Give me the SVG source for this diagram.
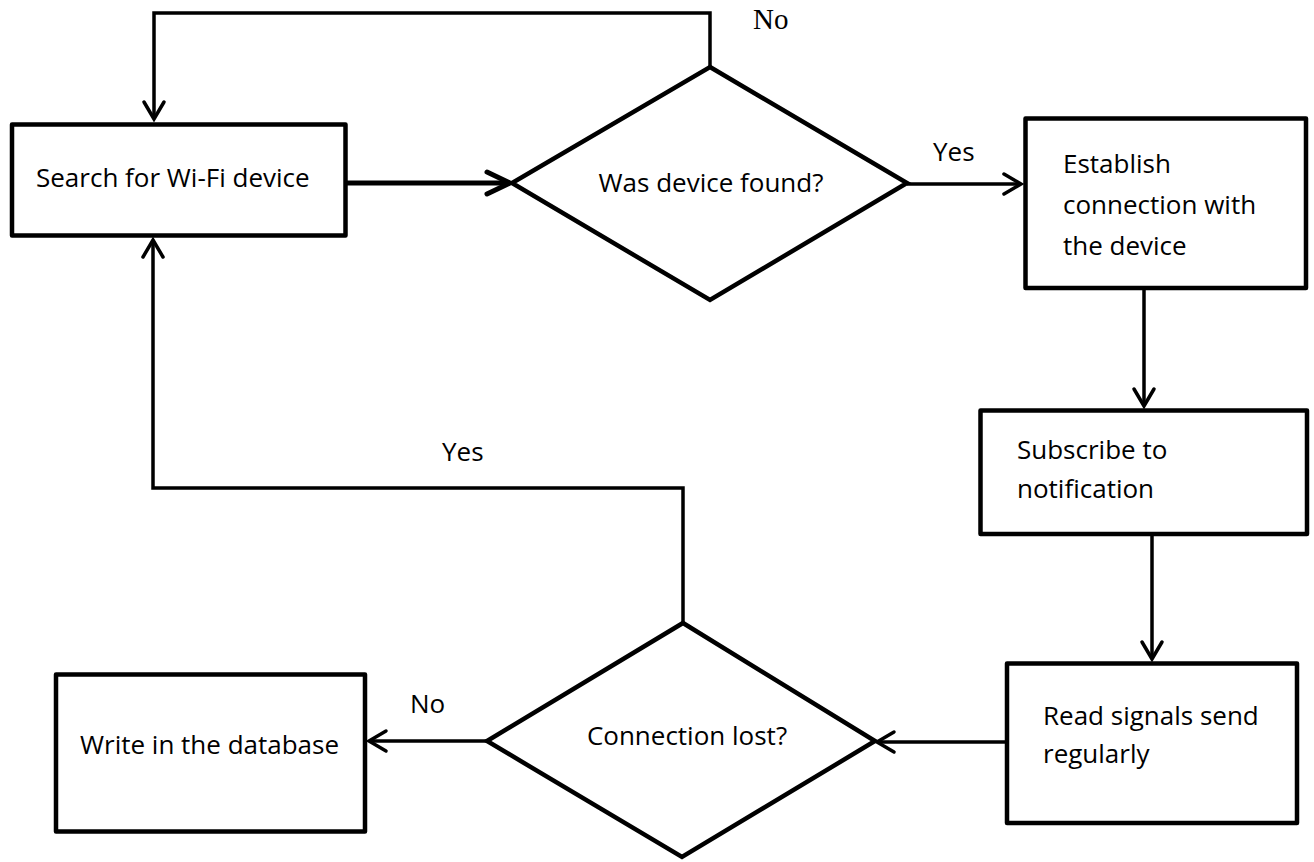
<svg xmlns="http://www.w3.org/2000/svg" width="1314" height="862" viewBox="0 0 1314 862">
  <style>
    .box { fill: #fff; stroke: #000; stroke-width: 4.5; stroke-linejoin: round; }
    .dia { fill: #fff; stroke: #000; stroke-width: 4.5; stroke-linejoin: miter; }
    .lbl { font-family: "Open Sans", "Noto Sans", "Liberation Sans", sans-serif; font-size: 26px; fill: #000; }
    .serif { font-family: "Liberation Serif", "Times New Roman", serif; font-size: 29px; fill: #000; }
    .con { fill: none; stroke: #000; stroke-width: 3.5; stroke-linejoin: miter; }
    .thick { stroke-width: 5; }
  </style>
  <defs>
    <marker id="arr" viewBox="-20 -14 24 28" refX="0" refY="0" markerWidth="24" markerHeight="28" markerUnits="userSpaceOnUse" orient="auto">
      <path d="M -17 -10 L 0 0 L -17 10" fill="none" stroke="#000" stroke-width="3.5" stroke-linecap="round" stroke-linejoin="miter"/>
    </marker>
    <marker id="arrB" viewBox="-28 -16 32 32" refX="0" refY="0" markerWidth="32" markerHeight="32" markerUnits="userSpaceOnUse" orient="auto">
      <path d="M -23 -11 L 0 0 L -23 11" fill="none" stroke="#000" stroke-width="5" stroke-linecap="round" stroke-linejoin="miter"/>
    </marker>
  </defs>

  <g id="connectors">
    <path class="con" d="M 710 67 V 13 H 154 V 119" marker-end="url(#arr)"/>
    <path class="con thick" d="M 347 183 H 510" marker-end="url(#arrB)"/>
    <path class="con" d="M 907 184 H 1021" marker-end="url(#arr)"/>
    <path class="con" d="M 1144 290 V 406" marker-end="url(#arr)"/>
    <path class="con" d="M 1152 536 V 659" marker-end="url(#arr)"/>
    <path class="con" d="M 1005 742 H 877" marker-end="url(#arr)"/>
    <path class="con" d="M 487 741 H 369" marker-end="url(#arr)"/>
    <path class="con" d="M 683 623 V 488 H 153 V 240" marker-end="url(#arr)"/>
    <text class="serif" x="753" y="29">No</text>
    <text class="lbl" x="933" y="161">Yes</text>
    <text class="lbl" x="442" y="461">Yes</text>
    <text class="lbl" x="410" y="713">No</text>
  </g>

  <g id="search">
    <rect class="box" x="12" y="124.5" width="333.5" height="111"/>
    <text class="lbl" x="36" y="187">Search for Wi-Fi device</text>
  </g>

  <g id="found">
    <polygon class="dia" points="710,67 907,183 710,300 512,183"/>
    <text class="lbl" x="711" y="192" text-anchor="middle">Was device found?</text>
  </g>

  <g id="establish">
    <rect class="box" x="1025.5" y="118.5" width="280.5" height="169.5"/>
    <text class="lbl" x="1063" y="173">Establish</text>
    <text class="lbl" x="1063" y="214">connection with</text>
    <text class="lbl" x="1063" y="255">the device</text>
  </g>

  <g id="subscribe">
    <rect class="box" x="980.5" y="410.5" width="326.5" height="123.5"/>
    <text class="lbl" x="1017" y="459">Subscribe to</text>
    <text class="lbl" x="1017" y="498">notification</text>
  </g>

  <g id="read">
    <rect class="box" x="1007" y="663.5" width="290" height="159.5"/>
    <text class="lbl" x="1043" y="725">Read signals send</text>
    <text class="lbl" x="1043" y="763">regularly</text>
  </g>

  <g id="lost">
    <polygon class="dia" points="683,623 875,741 682,857 487,741"/>
    <text class="lbl" x="687" y="745" text-anchor="middle">Connection lost?</text>
  </g>

  <g id="write">
    <rect class="box" x="56" y="674.5" width="309" height="157"/>
    <text class="lbl" x="80" y="754">Write in the database</text>
  </g>
</svg>
